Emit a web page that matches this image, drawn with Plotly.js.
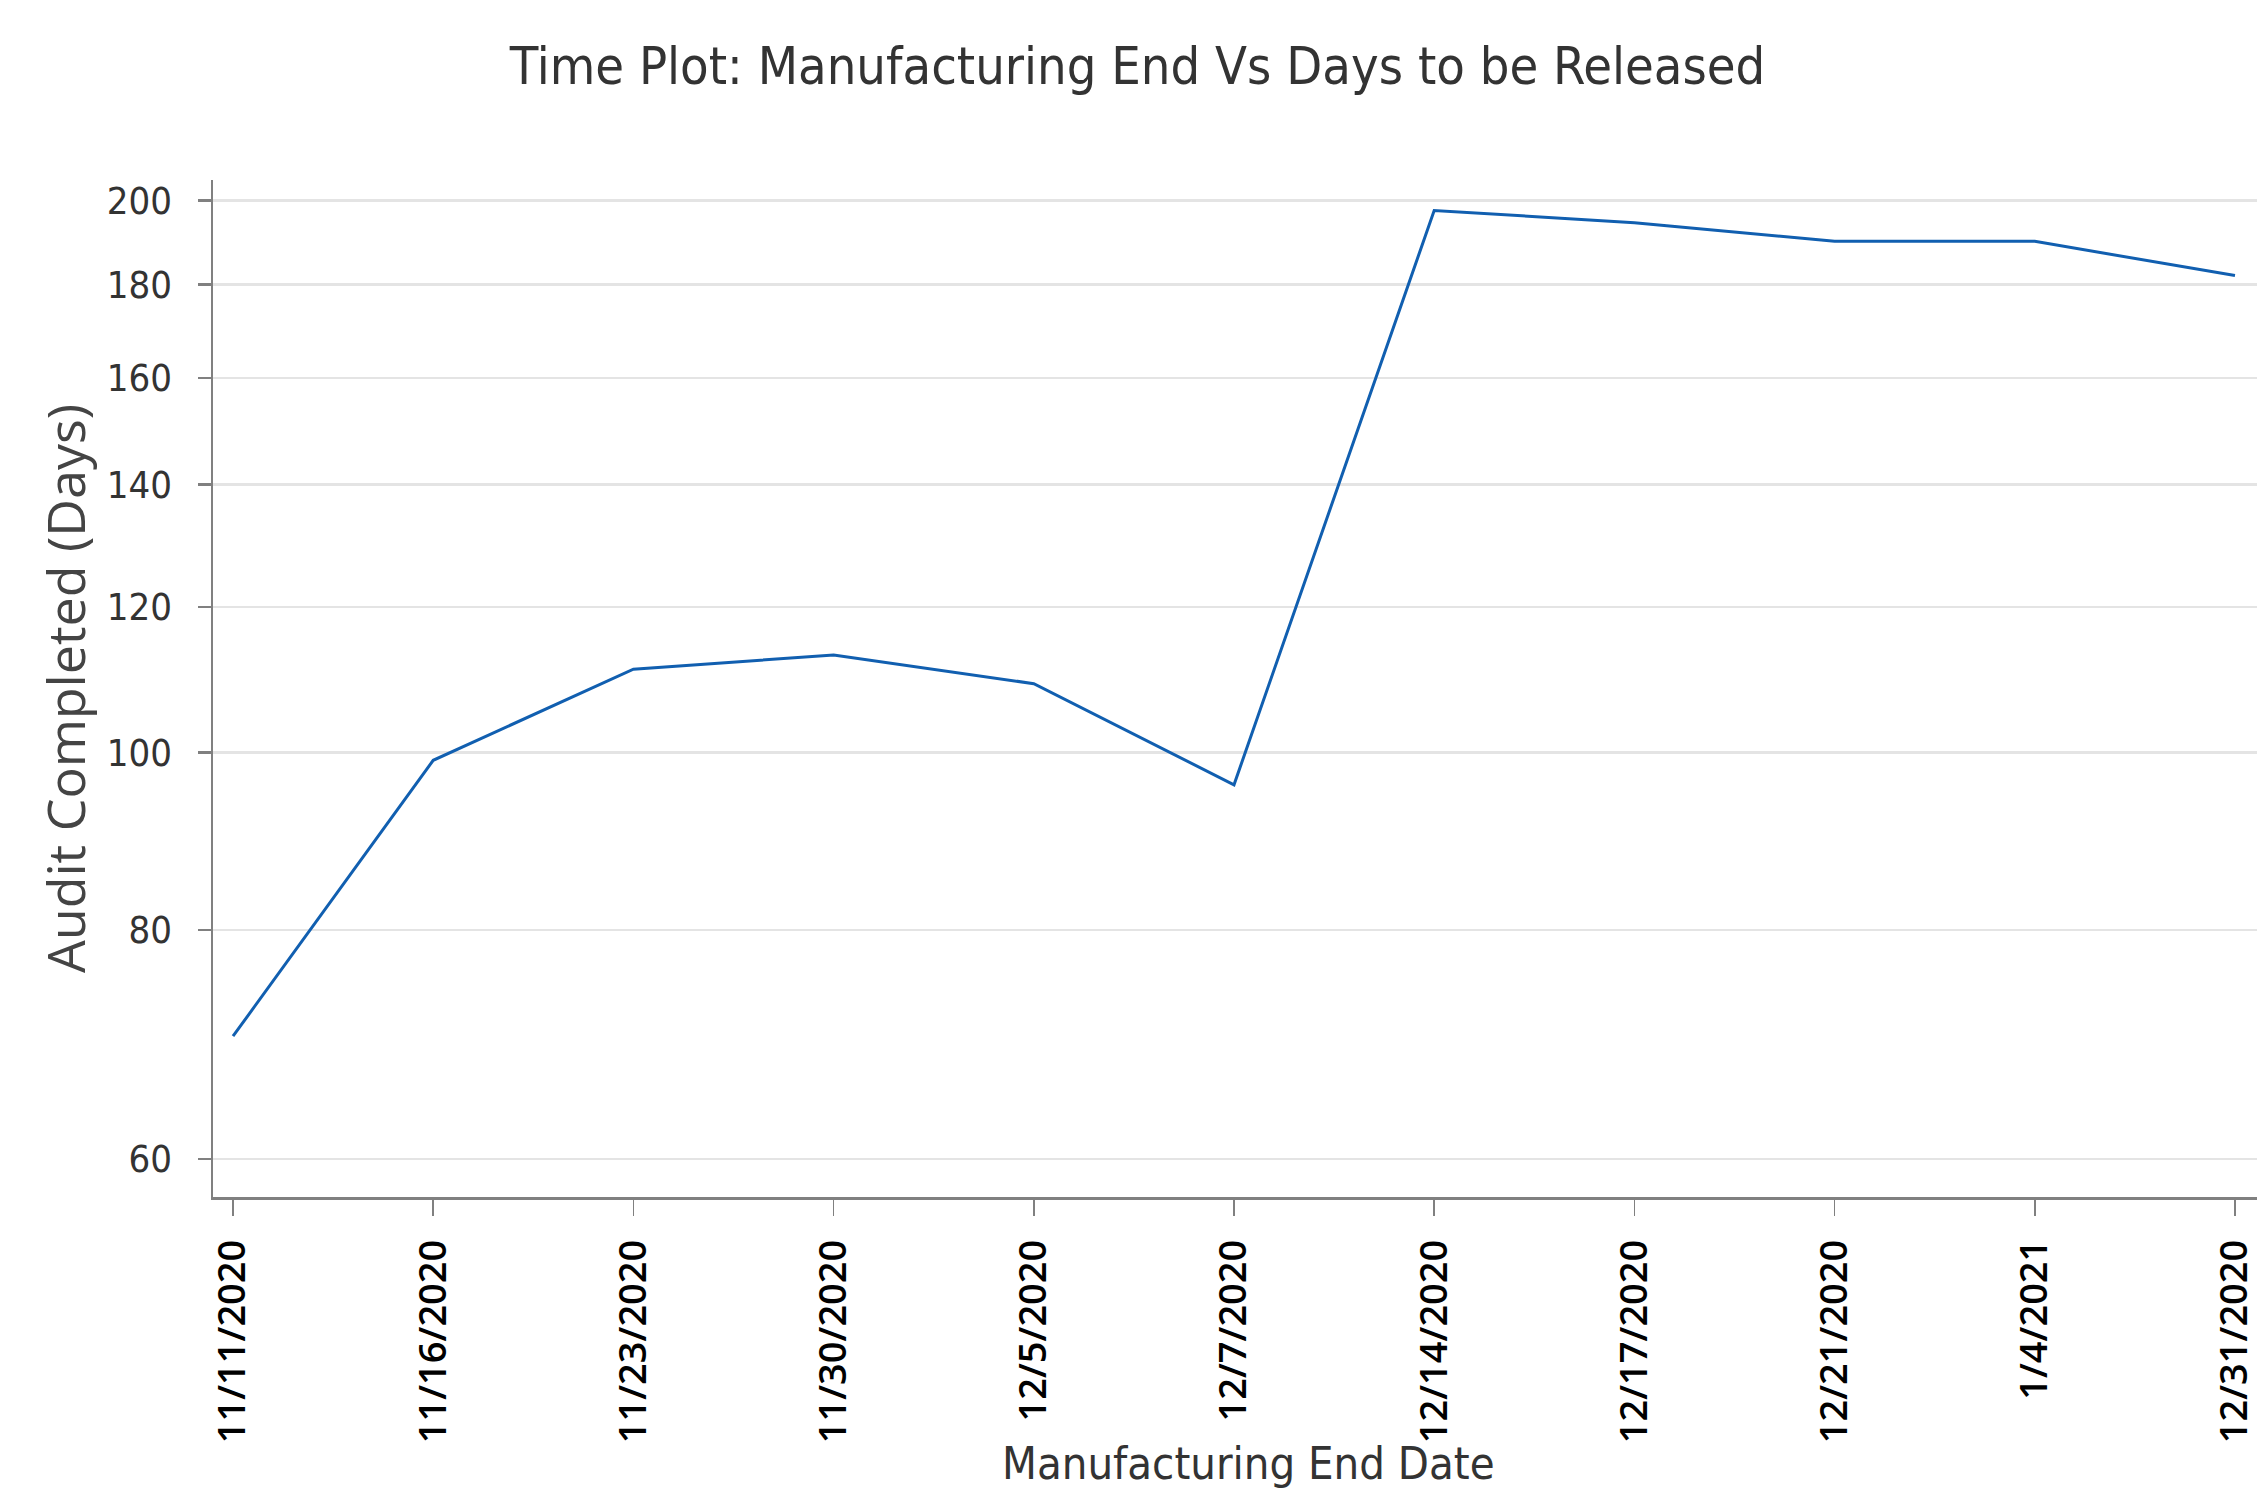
<!DOCTYPE html>
<html>
<head>
<meta charset="utf-8">
<script src="https://cdn.plot.ly/plotly-3.0.1.min.js"></script>
<style>
  html, body { margin: 0; padding: 0; background: #ffffff; }
  #chart { width: 2257px; height: 1495px; }
</style>
</head>
<body>
<div id="chart"></div>
<script>
// Data
const dates = ["11/11/2020", "11/16/2020", "11/23/2020", "11/30/2020", "12/5/2020", "12/7/2020",
               "12/14/2020", "12/17/2020", "12/21/2020", "1/4/2021", "12/31/2020"];
const daysToRelease = [70, 99, 111, 113, 109, 96, 197.5, 194.5, 190, 190, 182];
const yTickValues = [60, 80, 100, 120, 140, 160, 180, 200];
const yTickLabels = ["60", "80", "100", "120", "140", "160", "180", "200"];
const xTitleText = "Manufacturing End Date";

const narrow = "Liberation Sans Narrow, DejaVu Sans Condensed, Arial Narrow, sans-serif";

const trace = {
  type: "scatter",
  mode: "lines",
  x: dates,
  y: daysToRelease,
  line: { color: "#115fb0", width: 3 },
  hoverinfo: "x+y"
};

const layout = {
  width: 2257,
  height: 1495,
  paper_bgcolor: "#ffffff",
  plot_bgcolor: "#ffffff",
  showlegend: false,
  margin: { l: 213, r: 0, t: 180, b: 298, pad: 0 },
  title: {
    text: "Time Plot: Manufacturing End Vs Days to be Released",
    font: { family: narrow, size: 52, color: "#333333" },
    xref: "container", x: 0.504, xanchor: "center",
    yref: "container", y: 1 - 66 / 1495, yanchor: "middle"
  },
  xaxis: {
    type: "category",
    range: [-0.1, 10.11],
    automargin: false,
    showgrid: false,
    zeroline: false,
    showline: true,
    linecolor: "#808080",
    linewidth: 2.5,
    ticks: "outside",
    ticklen: 16,
    tickwidth: 1.5,
    tickcolor: "#808080",
    tickangle: -90,
    ticklabelstandoff: 9,
    tickfont: { family: "Open Sans, sans-serif", size: 38, color: "#000000", weight: 600 }
  },
  yaxis: {
    type: "log",
    range: [1.75739, 2.31221],
    automargin: false,
    tickmode: "array",
    tickvals: yTickValues,
    ticktext: yTickLabels,
    showgrid: true,
    gridcolor: "#e4e4e4",
    gridwidth: 2.5,
    zeroline: false,
    showline: true,
    linecolor: "#808080",
    linewidth: 2.5,
    ticks: "outside",
    ticklen: 13,
    tickwidth: 2.5,
    tickcolor: "#808080",
    ticklabelstandoff: 18,
    tickfont: { family: narrow, size: 38, color: "#333333" },
    title: {
      text: "Audit Completed (Days)",
      font: { family: "Open Sans, sans-serif", size: 52, color: "#444444" },
      standoff: 5
    }
  },
  annotations: [{
    text: xTitleText,
    showarrow: false,
    xref: "paper", x: 0.5064, xanchor: "center",
    yref: "paper", y: -0.2905, yanchor: "bottom",
    font: { family: narrow, size: 45, color: "#333333" }
  }]
};

Plotly.newPlot("chart", [trace], layout, { displayModeBar: false, staticPlot: true });
</script>
</body>
</html>
